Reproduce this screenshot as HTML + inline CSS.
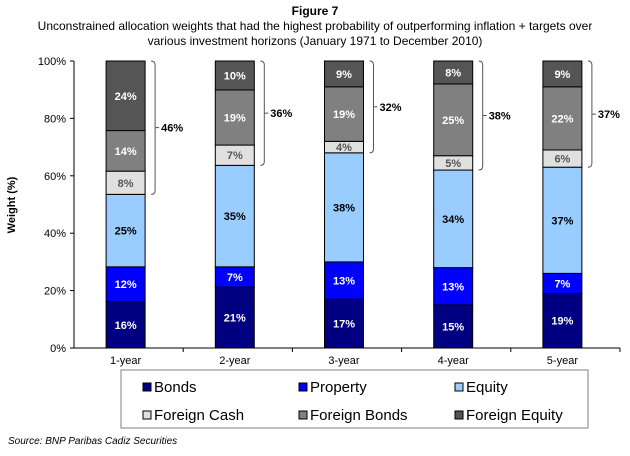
<!DOCTYPE html>
<html><head><meta charset="utf-8"><style>
body{margin:0;background:#fff;font-family:"Liberation Sans",Arial,sans-serif}
</style></head><body>
<svg width="630" height="451" viewBox="0 0 630 451" xmlns="http://www.w3.org/2000/svg" font-family="Liberation Sans, Arial, sans-serif">
<text x="315" y="15" text-anchor="middle" font-size="12" font-weight="bold">Figure 7</text>
<text x="315" y="30" text-anchor="middle" font-size="12">Unconstrained allocation weights that had the highest probability of outperforming inflation + targets over</text>
<text x="315" y="45" text-anchor="middle" font-size="12">various investment horizons (January 1971 to December 2010)</text>
<g id="plot"></g>
<text transform="translate(15,205) rotate(-90)" text-anchor="middle" font-size="11" font-weight="bold">Weight (%)</text>
<rect x="121" y="370" width="467" height="58" fill="#fff" stroke="#808080"/>
<g id="legend"></g>
<text x="8" y="444" font-size="10" font-style="italic">Source: BNP Paribas Cadiz Securities</text>
</svg>
<script>
const categories=["1-year","2-year","3-year","4-year","5-year"];
const seriesNames=["Bonds","Property","Equity","Foreign Cash","Foreign Bonds","Foreign Equity"];
const bonds=[16,21,17,15,19];
const property=[12,7,13,13,7];
const equity=[25,35,38,34,37];
const foreignCash=[8,7,4,5,6];
const foreignBonds=[14,19,19,25,22];
const foreignEquity=[24,10,9,8,9];
const bracketTotals=[46,36,32,38,37];
const yTicks=[0,20,40,60,80,100];
const series=[bonds,property,equity,foreignCash,foreignBonds,foreignEquity];
const fills=["#000080","#0000ff","#99ccff","#e0e0e0","#808080","#555555"];
const labelColors=["#fff","#fff","#000","#555","#fff","#fff"];
const NS="http://www.w3.org/2000/svg";
const X0=74,X1=620,Y0=348,Y1=61,BW=39;
const y=v=>Y0-(v/100)*(Y0-Y1);
const step=(X1-X0)/categories.length;
const xc=i=>X0+step*(i+0.5)-3;
function mk(tag,attrs,parent,text){const e=document.createElementNS(NS,tag);for(const k in attrs)e.setAttribute(k,attrs[k]);if(text!==undefined)e.textContent=text;parent.appendChild(e);return e;}
const plot=document.getElementById('plot');
yTicks.forEach(t=>{
 const tk=mk('line',{x1:X0-4,x2:X0,y1:y(t),y2:y(t),stroke:'#000'},plot);
 
 
 const tl=mk('text',{x:X0-8,y:y(t)+4,'text-anchor':'end','font-size':11},plot,t+'%');
 
 
});
categories.forEach((c,i)=>{
 const total=series.reduce((a,s)=>a+s[i],0);
 const sc=100/total;
 let cum=0;
 series.forEach((s,j)=>{
  const v=s[i];const top=cum+v*sc;
  const r=mk('rect',{x:xc(i)-BW/2,y:y(top),width:BW,height:y(cum)-y(top),fill:fills[j],stroke:'#000','stroke-width':1},plot);
  
  
  const t=mk('text',{x:xc(i),y:(y(cum)+y(top))/2+4,'text-anchor':'middle','font-size':11,'font-weight':'bold',fill:labelColors[j]},plot,v+'%');
  
  
  cum=top;
 });
 const base=(bonds[i]+property[i]+equity[i])*sc;
 const bx=xc(i)+BW/2+6,yt=y(100),yb=y(base),ym=(yt+yb)/2;
 const br=mk('path',{d:`M${bx},${yt} q4,0 4,4 V${yb-4} q0,4 -4,4 M${bx+4},${ym} h4`,fill:'none',stroke:'#555','stroke-width':1},plot);
 
 
 const bt=mk('text',{x:bx+10,y:ym+4,'font-size':11,'font-weight':'bold'},plot,bracketTotals[i]+'%');
 
 
 const cl=mk('text',{x:xc(i),y:Y0+16,'text-anchor':'middle','font-size':11},plot,c);
 
 
 const tk=mk('line',{x1:X0+step*(i+1),x2:X0+step*(i+1),y1:Y0,y2:Y0+4,stroke:'#000'},plot);
 
 
});
const ax=mk('path',{d:`M${X0},${Y1} V${Y0} H${X1}`,fill:'none',stroke:'#000'},plot);


const lg=document.getElementById('legend');
seriesNames.forEach((n,j)=>{
 const col=j%3,row=Math.floor(j/3);
 const lx=143+col*156,ly=391+row*28;
 const s=mk('rect',{x:lx,y:ly-8,width:8,height:8,fill:fills[j],stroke:'#000'},lg);
 
 
 const t=mk('text',{x:lx+11,y:ly+1,'font-size':15},lg,n);
 
 
});
</script>
</body></html>
